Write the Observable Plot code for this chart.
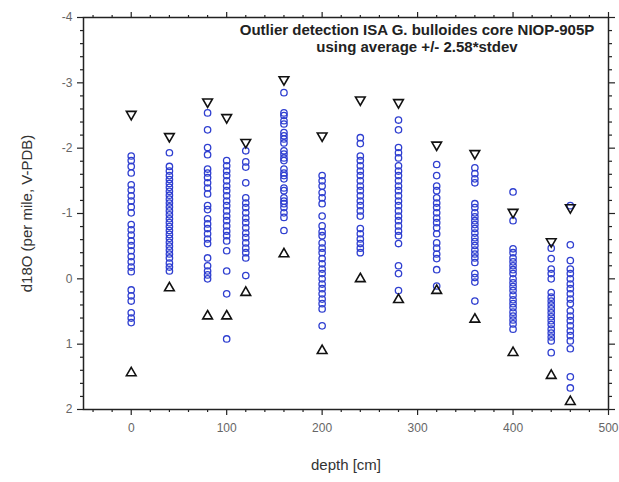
<!DOCTYPE html>
<html>
<head>
<meta charset="utf-8">
<script src="https://cdn.jsdelivr.net/npm/d3@7"></script>
<script src="https://cdn.jsdelivr.net/npm/@observablehq/plot@0.6"></script>
<style>
  html, body { margin: 0; padding: 0; background: #fff; }
  #chart { width: 619px; height: 482px; }
</style>
</head>
<body>
<div id="chart"></div>
<script>
// Sample depths (cm)
const depths = [0, 40, 80, 100, 120, 160, 200, 240, 280, 320, 360, 400, 440, 460];

// Outlier limits: average - 2.58*stdev (upper, drawn as down triangles) and average + 2.58*stdev (lower, up triangles)
const upperLimit = [-2.52, -2.18, -2.71, -2.47, -2.09, -3.05, -2.19, -2.74, -2.70, -2.05, -1.92, -1.02, -0.57, -1.09];
const lowerLimit = [1.44, 0.14, 0.57, 0.57, 0.21, -0.38, 1.10, 0.00, 0.32, 0.18, 0.62, 1.13, 1.48, 1.88];

// d18O measurements per depth
const d0 = [-1.88, -1.81, -1.72, -1.62, -1.44, -1.36, -1.27, -1.19, -1.10, -1.01, -0.83, -0.75, -0.67, -0.58, -0.51, -0.43, -0.34, -0.26, -0.18, -0.11, 0.17, 0.26, 0.34, 0.52, 0.60, 0.67];
const d40 = [-1.93, -1.72, -1.65, -1.58, -1.52, -1.46, -1.40, -1.34, -1.28, -1.22, -1.16, -1.10, -1.04, -0.98, -0.92, -0.86, -0.80, -0.74, -0.68, -0.62, -0.56, -0.50, -0.44, -0.38, -0.32, -0.24, -0.18, -0.12];
const d80 = [-2.54, -2.28, -2.01, -1.90, -1.68, -1.62, -1.55, -1.47, -1.39, -1.30, -1.12, -1.06, -0.92, -0.84, -0.77, -0.69, -0.61, -0.54, -0.32, -0.20, -0.12, -0.06, 0.00];
const d100 = [-1.81, -1.73, -1.65, -1.58, -1.50, -1.42, -1.35, -1.27, -1.19, -1.12, -1.04, -0.96, -0.89, -0.81, -0.73, -0.66, -0.58, -0.43, -0.12, 0.23, 0.92];
const d120 = [-1.96, -1.79, -1.71, -1.47, -1.24, -1.16, -1.09, -1.01, -0.93, -0.86, -0.78, -0.70, -0.63, -0.55, -0.47, -0.40, -0.32, -0.05];
const d160 = [-2.85, -2.54, -2.50, -2.42, -2.37, -2.24, -2.19, -2.14, -2.08, -1.96, -1.91, -1.85, -1.81, -1.68, -1.62, -1.58, -1.53, -1.39, -1.35, -1.24, -1.19, -1.15, -1.09, -1.01, -0.94, -0.74];
const d200 = [-1.58, -1.50, -1.42, -1.32, -1.24, -1.15, -0.96, -0.81, -0.72, -0.66, -0.55, -0.47, -0.40, -0.31, -0.23, -0.15, -0.08, 0.00, 0.08, 0.15, 0.23, 0.31, 0.38, 0.46, 0.72];
const d240 = [-2.16, -2.07, -1.88, -1.81, -1.73, -1.65, -1.58, -1.50, -1.42, -1.35, -1.27, -1.19, -1.12, -1.04, -0.96, -0.77, -0.69, -0.61, -0.54, -0.47, -0.40];
const d280 = [-2.43, -2.28, -2.01, -1.93, -1.85, -1.73, -1.65, -1.58, -1.50, -1.42, -1.35, -1.27, -1.19, -1.12, -1.04, -0.96, -0.89, -0.81, -0.73, -0.66, -0.54, -0.20, -0.08, 0.18];
const d320 = [-1.75, -1.58, -1.42, -1.35, -1.24, -1.16, -1.09, -1.01, -0.93, -0.86, -0.78, -0.69, -0.55, -0.47, -0.38, -0.31, -0.14, 0.11];
const d360 = [-1.70, -1.61, -1.53, -1.47, -1.15, -1.09, -1.01, -0.95, -0.89, -0.83, -0.77, -0.70, -0.63, -0.57, -0.51, -0.44, -0.38, -0.32, -0.25, -0.08, -0.02, 0.05, 0.34];
const d400 = [-1.33, -0.89, -0.46, -0.40, -0.32, -0.26, -0.20, -0.14, -0.08, 0.00, 0.06, 0.12, 0.18, 0.25, 0.32, 0.38, 0.44, 0.51, 0.57, 0.63, 0.69, 0.77];
const d440 = [-0.47, -0.31, -0.15, -0.08, 0.00, 0.21, 0.28, 0.34, 0.40, 0.46, 0.52, 0.58, 0.64, 0.70, 0.77, 0.83, 0.89, 0.95, 1.13];
const d460 = [-1.12, -0.52, -0.28, -0.15, -0.08, 0.00, 0.08, 0.15, 0.23, 0.31, 0.38, 0.49, 0.57, 0.64, 0.72, 0.80, 0.87, 0.95, 1.07, 1.50, 1.67];

// Axis ticks
const xMajorTicks = [0, 100, 200, 300, 400, 500];
const xMinorTicks = [-40, -20, 20, 40, 60, 80, 120, 140, 160, 180, 220, 240, 260, 280, 320, 340, 360, 380, 420, 440, 460, 480];
const yMajorTicks = [-4, -3, -2, -1, 0, 1, 2];
const yMinorTicks = [-3.8, -3.6, -3.4, -3.2, -2.8, -2.6, -2.4, -2.2, -1.8, -1.6, -1.4, -1.2, -0.8, -0.6, -0.4, -0.2, 0.2, 0.4, 0.6, 0.8, 1.2, 1.4, 1.6, 1.8];

const titleText = "Outlier detection ISA G. bulloides core NIOP-905P\nusing average +/- 2.58*stdev";
const xLabel = "depth [cm]";
const yLabel = "d18O (per mile, V-PDB)";

// Build tables
const series = [d0, d40, d80, d100, d120, d160, d200, d240, d280, d320, d360, d400, d440, d460];
const points = [];
depths.forEach((dep, i) => series[i].forEach(v => points.push({depth: dep, value: v})));
const limits = depths.map((dep, i) => ({depth: dep, upper: upperLimit[i], lower: lowerLimit[i]}));

const axisColor = "#222";
const labelColor = "#666";
const fmt = d => String(d);

const chart = Plot.plot({
  width: 619,
  height: 482,
  marginLeft: 83,
  marginRight: 11,
  marginTop: 17,
  marginBottom: 73,
  style: {fontFamily: "'Liberation Sans', Arial, sans-serif", fontSize: "12px", background: "#fff", overflow: "visible"},
  x: {domain: [-50, 500]},
  y: {domain: [-4, 2], reverse: true},
  marks: [
    Plot.frame({stroke: axisColor, strokeWidth: 1.5}),
    // bottom axis
    Plot.axisX({anchor: "bottom", ticks: xMajorTicks, tickFormat: fmt, tickSize: 6, tickPadding: 8, stroke: axisColor, strokeWidth: 1.2, color: labelColor, fontSize: 12,
      label: xLabel, labelAnchor: "center", labelOffset: 60, labelArrow: "none"}),
    Plot.axisX({anchor: "bottom", ticks: xMinorTicks, tickSize: 3, text: null, label: null, stroke: axisColor, strokeWidth: 1.2}),
    // top axis
    Plot.axisX({anchor: "top", ticks: xMajorTicks, tickSize: 6, text: null, label: null, stroke: axisColor, strokeWidth: 1.2}),
    Plot.axisX({anchor: "top", ticks: xMinorTicks, tickSize: 3, text: null, label: null, stroke: axisColor, strokeWidth: 1.2}),
    // left axis
    Plot.axisY({anchor: "left", ticks: yMajorTicks, tickFormat: fmt, tickSize: 6, tickPadding: 5, stroke: axisColor, strokeWidth: 1.2, color: labelColor, fontSize: 12,
      label: yLabel, labelAnchor: "center", labelOffset: 62, labelArrow: "none"}),
    Plot.axisY({anchor: "left", ticks: yMinorTicks, tickSize: 3, text: null, label: null, stroke: axisColor, strokeWidth: 1.2}),
    // right axis
    Plot.axisY({anchor: "right", ticks: yMajorTicks, tickSize: 6, text: null, label: null, stroke: axisColor, strokeWidth: 1.2}),
    Plot.axisY({anchor: "right", ticks: yMinorTicks, tickSize: 3, text: null, label: null, stroke: axisColor, strokeWidth: 1.2}),
    // data
    Plot.dot(points, {x: "depth", y: "value", r: 3.2, stroke: "#2f3fd0", strokeWidth: 1.3, fill: "none"}),
    Plot.dot(limits, {x: "depth", y: "upper", symbol: "triangle", rotate: 180, r: 3.6, stroke: "#111", strokeWidth: 1.6, fill: "none"}),
    Plot.dot(limits, {x: "depth", y: "lower", symbol: "triangle", r: 3.6, stroke: "#111", strokeWidth: 1.6, fill: "none"}),
    // title
    Plot.text([titleText], {frameAnchor: "top", dx: 71, dy: 6, lineAnchor: "top", lineHeight: 1.1, fontSize: 15, fontWeight: "bold", fill: "#222", textAnchor: "middle"})
  ]
});

// Label styling
chart.querySelectorAll("g[aria-label='x-axis label'] text, g[aria-label='y-axis label'] text").forEach(t => {
  t.setAttribute("font-size", "15");
  t.setAttribute("fill", "#333");
});
document.getElementById("chart").appendChild(chart);
</script>
</body>
</html>
